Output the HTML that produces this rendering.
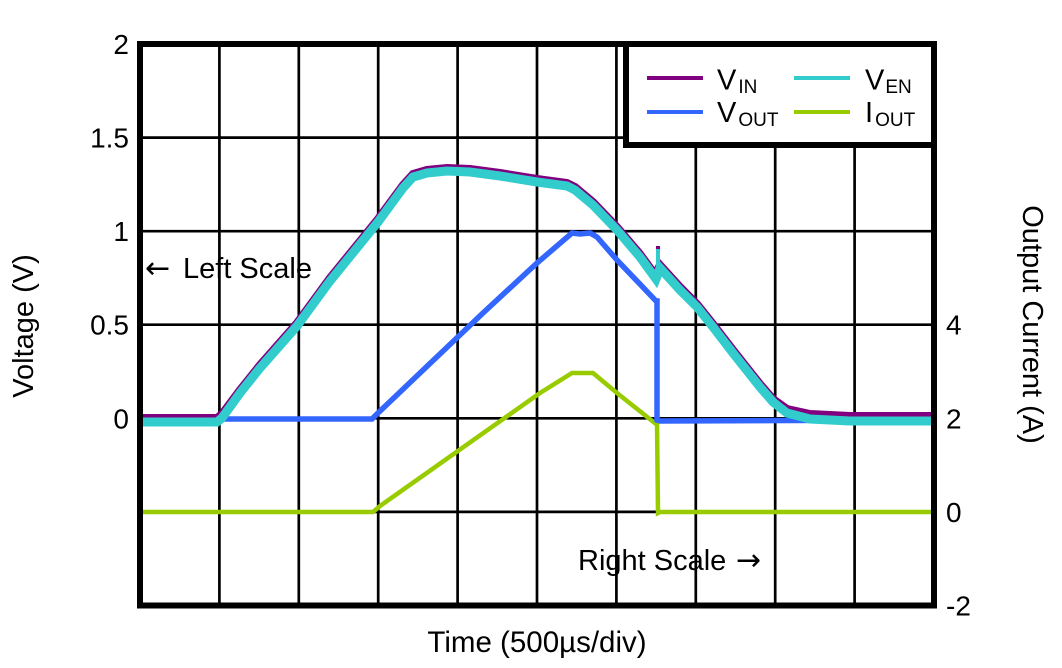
<!DOCTYPE html>
<html>
<head>
<meta charset="utf-8">
<style>
  html, body { margin:0; padding:0; background:#fff; }
  svg { display:block; }
  text { font-family: "Liberation Sans", Arial, sans-serif; fill:#000; }
</style>
</head>
<body>
<svg width="1062" height="668" viewBox="0 0 1062 668" xmlns="http://www.w3.org/2000/svg">
  <rect x="0" y="0" width="1062" height="668" fill="#fff"/>
  <!-- grid -->
  <g stroke="#000" stroke-width="2.7" fill="none">
    <line x1="219.4" y1="44" x2="219.4" y2="605.5"/>
    <line x1="298.8" y1="44" x2="298.8" y2="605.5"/>
    <line x1="378.2" y1="44" x2="378.2" y2="605.5"/>
    <line x1="457.6" y1="44" x2="457.6" y2="605.5"/>
    <line x1="537" y1="44" x2="537" y2="605.5"/>
    <line x1="616.4" y1="44" x2="616.4" y2="605.5"/>
    <line x1="695.8" y1="44" x2="695.8" y2="605.5"/>
    <line x1="775.2" y1="44" x2="775.2" y2="605.5"/>
    <line x1="854.6" y1="44" x2="854.6" y2="605.5"/>
    <line x1="140" y1="137.6" x2="934" y2="137.6"/>
    <line x1="140" y1="231.2" x2="934" y2="231.2"/>
    <line x1="140" y1="324.7" x2="934" y2="324.7"/>
    <line x1="140" y1="418.3" x2="934" y2="418.3"/>
    <line x1="140" y1="511.9" x2="934" y2="511.9"/>
  </g>

  <!-- I_OUT green -->
  <polyline fill="none" stroke="#99CC00" stroke-width="4.5" stroke-linejoin="miter"
    points="143,512 373,512 380,506 540,393 572,373 593,373 617,393 656,424 657,424 658,513 660,512 931,512"/>

  <!-- V_OUT blue -->
  <polyline fill="none" stroke="#3366FF" stroke-width="5.5" stroke-linejoin="miter"
    points="143,419 372,419 378,413 483,313 537,263 572,233 580,234 590,233 597,237 617,260 656,301 657,301 657,420 660,421 931,420"/>

  <!-- V_IN purple (slightly above teal) -->
  <polyline fill="none" stroke="#800080" stroke-width="8" stroke-linejoin="miter" transform="translate(0,-3)"
    points="143,421 217,421 222,417 240,393 260,368 297,326 330,281 378,222 403,188 413,177 427,173 447,171 470,172 500,176 537,182 567,186 575,190 593,205 617,230 640,257 656,279 658,272 660,268 680,290 697,307 713,327 733,353 760,387 773,402 787,412 810,417 850,419 931,419"/>
  <line x1="658" y1="246" x2="658" y2="276" stroke="#800080" stroke-width="4"/>

  <!-- V_EN teal -->
  <polyline fill="none" stroke="#33CCCC" stroke-width="9" stroke-linejoin="miter"
    points="143,422 217,422 222,418 240,393 260,368 297,326 330,281 378,222 403,188 413,177 427,173 447,171 470,172 500,176 537,182 567,186 575,190 593,205 617,230 640,257 656,279 658,274 660,268 680,290 697,307 713,327 733,353 760,387 773,402 787,413 810,419 850,421 931,421"/>
  <line x1="658" y1="249" x2="658" y2="278" stroke="#33CCCC" stroke-width="4"/>

  <!-- frame -->
  <rect x="140" y="44" width="794" height="561.5" fill="none" stroke="#000" stroke-width="6"/>

  <!-- legend -->
  <rect x="626" y="44" width="308" height="101" fill="#fff" stroke="#000" stroke-width="6"/>
  <line x1="647" y1="78" x2="703" y2="78" stroke="#800080" stroke-width="4"/>
  <line x1="647" y1="112" x2="703" y2="112" stroke="#3366FF" stroke-width="4"/>
  <line x1="794" y1="78" x2="850" y2="78" stroke="#33CCCC" stroke-width="4"/>
  <line x1="794" y1="112" x2="850" y2="112" stroke="#99CC00" stroke-width="4"/>
  <text x="717" y="89.5" font-size="29">V<tspan font-size="19" dx="2" dy="3.5">IN</tspan></text>
  <text x="717" y="122" font-size="29">V<tspan font-size="19" dx="2" dy="4">OUT</tspan></text>
  <text x="865" y="89.5" font-size="29">V<tspan font-size="19" dx="1" dy="3.5">EN</tspan></text>
  <text x="865" y="122" font-size="29">I<tspan font-size="19" dx="2" dy="4">OUT</tspan></text>

  <!-- left ticks -->
  <g font-size="28" text-anchor="end">
    <text x="129" y="54">2</text>
    <text x="129" y="147.6">1.5</text>
    <text x="129" y="241.2">1</text>
    <text x="129" y="334.7">0.5</text>
    <text x="129" y="428.3">0</text>
  </g>
  <!-- right ticks -->
  <g font-size="28">
    <text x="946" y="334.7">4</text>
    <text x="946" y="428.3">2</text>
    <text x="946" y="521.9">0</text>
    <text x="946" y="615.5">-2</text>
  </g>

  <!-- annotations -->
  <text x="145" y="278" font-size="29"><tspan font-family="DejaVu Sans, sans-serif" font-size="30">←</tspan><tspan x="183">Left Scale</tspan></text>
  <text x="578" y="570" font-size="29">Right Scale<tspan x="736" font-family="DejaVu Sans, sans-serif" font-size="30">→</tspan></text>

  <!-- axis titles -->
  <text x="537" y="652" font-size="29.5" text-anchor="middle">Time (500µs/div)</text>
  <text transform="translate(33,326) rotate(-90)" font-size="29" text-anchor="middle">Voltage (V)</text>
  <text transform="translate(1023,324.5) rotate(90)" font-size="29" text-anchor="middle">Output Current (A)</text>
</svg>
</body>
</html>
